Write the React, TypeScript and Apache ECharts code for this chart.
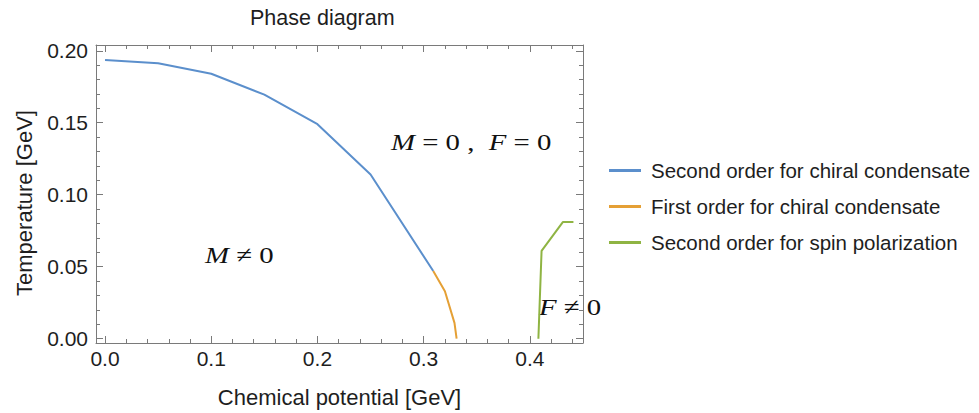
import React, { useEffect, useRef } from "react";
import * as echarts from "echarts";

const blueMu = [0, 0.05, 0.1, 0.15, 0.2, 0.25, 0.309];
const blueT = [0.1935, 0.1913, 0.184, 0.1695, 0.149, 0.114, 0.047];
const orangeMu = [0.309, 0.32, 0.329, 0.331];
const orangeT = [0.047, 0.033, 0.011, 0];
const greenMu = [0.408, 0.411, 0.431, 0.441];
const greenT = [0, 0.061, 0.081, 0.081];

const seriesNames = [
  "Second order for chiral condensate",
  "First order for chiral condensate",
  "Second order for spin polarization",
];

const xMajor = [0, 0.1, 0.2, 0.3, 0.4];
const xMinor = [0.02, 0.04, 0.06, 0.08, 0.12, 0.14, 0.16, 0.18, 0.22, 0.24, 0.26, 0.28, 0.32, 0.34, 0.36, 0.38, 0.42, 0.44];
const yMajor = [0, 0.05, 0.1, 0.15, 0.2];
const yMinor = [0.01, 0.02, 0.03, 0.04, 0.06, 0.07, 0.08, 0.09, 0.11, 0.12, 0.13, 0.14, 0.16, 0.17, 0.18, 0.19];

const X_MIN = -0.0085;
const X_MAX = 0.45;
const Y_MIN = -0.003;
const Y_MAX = 0.204;

const FRAME = "#7a7a7a";
const TEXT = "#1e1e1e";
const SANS = "Liberation Sans";
const COLORS = ["#5b8fcc", "#e5a035", "#8fb443"];

export default function App() {
  const ref = useRef<HTMLDivElement>(null);
  useEffect(() => {
    if (!ref.current) return;
    const chart = echarts.init(ref.current, undefined, { renderer: "svg" });

    const mkX = (pos: string, ticks: number[], len: number, labels: boolean, line: boolean, name?: string) => ({
      type: "value",
      position: pos,
      min: X_MIN,
      max: X_MAX,
      name: name,
      nameLocation: "middle",
      nameGap: 43,
      nameTextStyle: { fontSize: 22, color: TEXT, fontFamily: SANS },
      axisLine: { show: line, onZero: false, lineStyle: { color: FRAME, width: 1 } },
      axisTick: { show: true, inside: true, length: len, customValues: ticks, lineStyle: { color: FRAME } },
      axisLabel: labels
        ? { show: true, customValues: ticks, formatter: (v: number) => v.toFixed(1), fontSize: 21, color: TEXT, fontFamily: SANS, margin: 5 }
        : { show: false },
      splitLine: { show: false },
    });
    const mkY = (pos: string, ticks: number[], len: number, labels: boolean, line: boolean) => ({
      type: "value",
      position: pos,
      min: Y_MIN,
      max: Y_MAX,
      axisLine: { show: line, onZero: false, lineStyle: { color: FRAME, width: 1 } },
      axisTick: { show: true, inside: true, length: len, customValues: ticks, lineStyle: { color: FRAME } },
      axisLabel: labels
        ? { show: true, customValues: ticks, formatter: (v: number) => v.toFixed(2), fontSize: 21, color: TEXT, fontFamily: SANS, margin: 8 }
        : { show: false },
      splitLine: { show: false },
    });

    const mk = (i: number, xs: number[], ys: number[]) => ({
      name: seriesNames[i],
      type: "line",
      xAxisIndex: 0,
      yAxisIndex: 0,
      symbol: "none",
      data: xs.map((x, k) => [x, ys[k]]),
      lineStyle: { color: COLORS[i], width: 2 },
      itemStyle: { color: COLORS[i] },
    });

    const mathText = (x: number, y: number, parts: [string, boolean][]) => ({
      type: "text",
      x,
      y,
      scaleX: 1.2,
      style: {
        text: parts.map(([t, it]) => (it ? `{i|${t}}` : `{n|${t}}`)).join(""),
        rich: {
          i: { fontStyle: "italic", fontFamily: "Liberation Serif", fontSize: 24, fill: "#111" },
          n: { fontFamily: "Liberation Serif", fontSize: 24, fill: "#111" },
        },
        verticalAlign: "middle",
      },
    });

    chart.setOption({
      animation: false,
      title: {
        text: "Phase diagram",
        left: 245,
        top: 2,
        textStyle: { fontSize: 21.5, fontWeight: "normal", color: TEXT, fontFamily: SANS },
      },
      grid: { left: 96, right: 396, top: 45, bottom: 67 },
      xAxis: [
        mkX("bottom", xMajor, 7, true, true, "Chemical potential [GeV]"),
        mkX("bottom", xMinor, 4, false, false),
        mkX("top", xMajor, 7, false, true),
        mkX("top", xMinor, 4, false, false),
      ],
      yAxis: [
        mkY("left", yMajor, 7, true, true),
        mkY("left", yMinor, 4, false, false),
        mkY("right", yMajor, 7, false, true),
        mkY("right", yMinor, 4, false, false),
      ],
      legend: {
        orient: "vertical",
        left: 604,
        top: 155,
        itemGap: 15,
        itemWidth: 32,
        itemHeight: 3,
        icon: "rect",
        textStyle: { fontSize: 20.5, color: TEXT, fontFamily: SANS, padding: [0, 0, 0, 5] },
        data: seriesNames,
      },
      series: [mk(0, blueMu, blueT), mk(1, orangeMu, orangeT), mk(2, greenMu, greenT)],
      graphic: [
        {
          type: "text",
          x: 24,
          y: 203,
          rotation: Math.PI / 2,
          style: { text: "Temperature [GeV]", fontSize: 22, fontFamily: SANS, fill: TEXT, align: "center", verticalAlign: "middle" },
        },
        mathText(391, 142, [["M", true], [" = 0 ,  ", false], ["F", true], [" = 0", false]]),
        mathText(205, 255, [["M", true], [" ≠ 0", false]]),
        mathText(539, 307, [["F", true], [" ≠ 0", false]]),
      ],
    });
    return () => chart.dispose();
  }, []);
  return <div ref={ref} style={{ width: 979, height: 413, position: "absolute", left: 0, top: 0 }} />;
}
